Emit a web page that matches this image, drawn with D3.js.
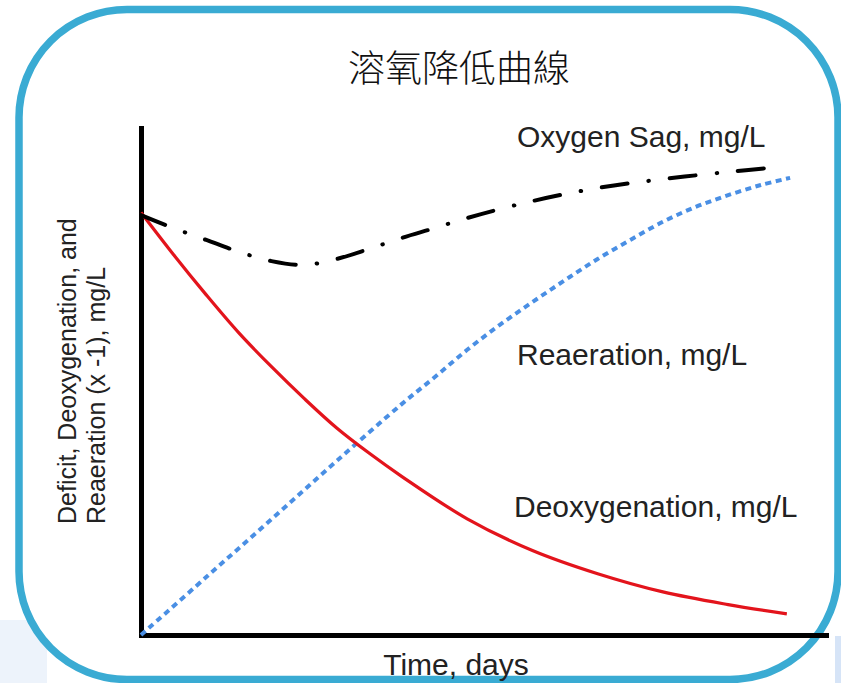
<!DOCTYPE html>
<html>
<head>
<meta charset="utf-8">
<script src="https://cdn.jsdelivr.net/npm/d3@7"></script>
<style>
  html, body { margin: 0; padding: 0; background: #fff; }
  svg { display: block; }
  text { font-family: "Liberation Sans", Arial, sans-serif; fill: #222; }
</style>
</head>
<body>
<svg id="chart" width="841" height="683"></svg>
<script>
// time points (days) and the three curves
const deoxT = [0, 0.5, 1, 1.5, 2, 2.5, 3, 3.5, 4, 5, 6, 7, 8, 9, 9.9];
const deoxV = [10, 9.0, 8.05, 7.15, 6.35, 5.6, 4.9, 4.3, 3.75, 2.75, 2.0, 1.45, 1.02, 0.72, 0.5];

const reaerT = [0, 1, 2, 3, 4, 4.5, 5, 5.5, 6, 6.5, 7, 7.5, 8, 8.5, 9, 9.5, 9.95];
const reaerV = [0, 1.37, 2.74, 4.12, 5.47, 6.1, 6.75, 7.34, 7.88, 8.4, 8.9, 9.35, 9.78, 10.13, 10.41, 10.65, 10.82];

const sagT = [0, 0.5, 1, 1.5, 2, 2.5, 3, 3.5, 4, 4.5, 5, 6, 7, 8, 9, 9.8];
const sagV = [9.94, 9.63, 9.35, 9.07, 8.85, 8.76, 8.9, 9.14, 9.4, 9.63, 9.87, 10.27, 10.58, 10.79, 10.96, 11.08];

const title = '溶氧降低曲線';
const xLabel = 'Time, days';
const yLabel = ['Deficit, Deoxygenation, and', 'Reaeration (x -1), mg/L'];
const seriesLabels = ['Oxygen Sag, mg/L', 'Reaeration, mg/L', 'Deoxygenation, mg/L'];

const svg = d3.select('#chart');

// light patches outside the frame
svg.append('rect').attr('x', 0).attr('y', 620).attr('width', 47).attr('height', 63).attr('fill', '#edf3fb');
svg.append('rect').attr('x', 835).attr('y', 636).attr('width', 6).attr('height', 47).attr('fill', '#d6e4f7');

// the rounded frame
svg.append('rect')
  .attr('x', 19).attr('y', 9.5)
  .attr('width', 819).attr('height', 670)
  .attr('rx', 108).attr('ry', 108)
  .attr('fill', '#fff')
  .attr('stroke', '#3aabd3')
  .attr('stroke-width', 7.5);

svg.append('text')
  .attr('x', 459).attr('y', 82)
  .attr('text-anchor', 'middle')
  .style('font-family', '"Noto Sans CJK TC", "Noto Sans CJK SC", sans-serif')
  .style('font-weight', 300)
  .style('font-size', '37px')
  .style('fill', '#111')
  .text(title);

const x = d3.scaleLinear().domain([0, 10.5]).range([141, 826]);
const y = d3.scaleLinear().domain([0, 12]).range([635, 128]);

// axes with no ticks, only the heavy domain lines
const styleAxis = g => {
  g.select('.domain')
    .attr('stroke', '#000')
    .attr('stroke-width', 5)
    .attr('stroke-linecap', 'square');
  g.selectAll('.tick').remove();
};

svg.append('g')
  .attr('transform', `translate(0,${y(0)})`)
  .call(d3.axisBottom(x).ticks(0).tickSizeOuter(0))
  .call(styleAxis);

svg.append('g')
  .attr('transform', `translate(${x(0)},0)`)
  .call(d3.axisLeft(y).ticks(0).tickSizeOuter(0))
  .call(styleAxis);

const line = d3.line()
  .x(d => x(d[0]))
  .y(d => y(d[1]))
  .curve(d3.curveCatmullRom.alpha(0.5));

const pairs = (ts, vs) => ts.map((t, i) => [t, vs[i]]);

svg.append('path')
  .datum(pairs(reaerT, reaerV))
  .attr('d', line)
  .attr('fill', 'none')
  .attr('stroke', '#4a8fe4')
  .attr('stroke-width', 4)
  .attr('stroke-dasharray', '6,4.5');

svg.append('path')
  .datum(pairs(deoxT, deoxV))
  .attr('d', line)
  .attr('fill', 'none')
  .attr('stroke', '#e3141c')
  .attr('stroke-width', 3.2);

svg.append('path')
  .datum(pairs(sagT, sagV))
  .attr('d', line)
  .attr('fill', 'none')
  .attr('stroke', '#000')
  .attr('stroke-width', 4)
  .attr('stroke-linecap', 'round')
  .attr('stroke-dasharray', '26,21,0.5,21');

// series labels
const labelPos = [[517, 147], [517, 365], [514, 517]];
svg.selectAll('.series-label')
  .data(seriesLabels)
  .enter().append('text')
  .attr('class', 'series-label')
  .attr('x', (d, i) => labelPos[i][0])
  .attr('y', (d, i) => labelPos[i][1])
  .style('font-size', '30px')
  .text(d => d);

svg.append('text')
  .attr('x', 456).attr('y', 675)
  .attr('text-anchor', 'middle')
  .style('font-size', '30px')
  .text(xLabel);

// two-line rotated y label, start-aligned at the bottom
svg.selectAll('.y-label')
  .data(yLabel)
  .enter().append('text')
  .attr('class', 'y-label')
  .attr('transform', (d, i) => `translate(${76 + i * 29},524) rotate(-90)`)
  .style('font-size', '25px')
  .text(d => d);
</script>
</body>
</html>
